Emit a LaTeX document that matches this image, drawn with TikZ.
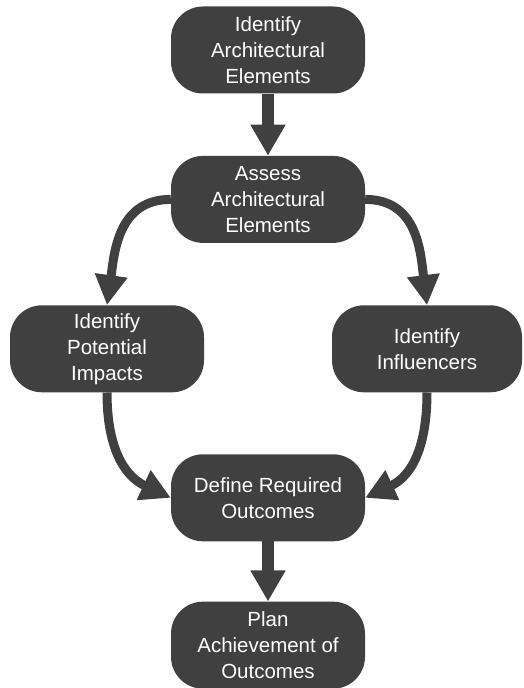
\documentclass[tikz,border=0pt]{standalone}
\usepackage{fontspec}
\setmainfont{Liberation Sans}
\usepackage{tikz}
\usetikzlibrary{arrows.meta, positioning}
\definecolor{stagegray}{HTML}{404040}

\begin{document}
\begin{tikzpicture}[
   stage/.style={fill=stagegray, text=white, rounded corners=32pt,
                 minimum width=194pt, minimum height=87pt, align=center,
                 font=\fontsize{20.5}{26}\selectfont},
   straight/.style={draw=stagegray, line width=12pt,
                    -{Triangle[length=31pt,width=33pt]}},
   curved/.style={draw=stagegray, line width=9pt,
                  -{Triangle[length=30pt,width=31pt]}}
   ]
\useasboundingbox (0,0) rectangle (523pt,688pt);
%
\node[stage] (identify) at (268pt,638pt) {Identify\\Architectural\\Elements};
\node[stage, below=62pt of identify] (assess) {Assess\\Architectural\\Elements};
\node[stage, below=62pt of assess, xshift=-161pt] (impacts) {Identify\\Potential\\Impacts};
\node[stage, below=62pt of assess, xshift=159pt, minimum width=190pt] (influencers) {Identify\\Influencers};
\node[stage, below=211pt of assess] (define) {Define Required\\Outcomes};
\node[stage, below=60pt of define] (plan) {Plan\\Achievement of\\Outcomes};


\draw[straight] (identify) -- (assess);
\draw[curved] (assess.west) to[out=180, in=82, looseness=1.1] (impacts.north);
\draw[curved] (assess.east) to[out=0, in=97, looseness=1.1] (influencers.north);
\draw[curved] (impacts.south) to[out=-90, in=155, looseness=1.1] (define.west);
\draw[curved] (influencers.south) to[out=-90, in=25, looseness=1.1] (define.east);
\draw[straight] (define) -- (plan);
%
\end{tikzpicture}
\end{document}
